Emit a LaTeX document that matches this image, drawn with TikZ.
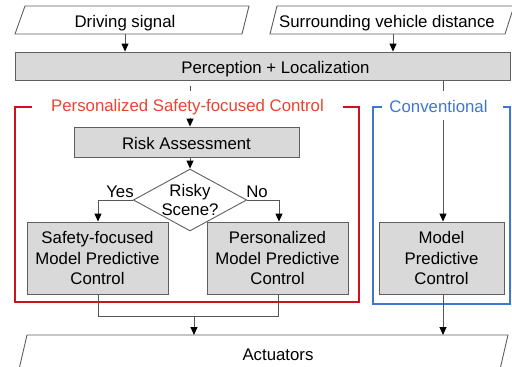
\documentclass[tikz,border=0pt]{standalone}
\usepackage{fontspec}
\setmainfont{Liberation Sans}
\usetikzlibrary{arrows.meta,shapes.geometric}
\definecolor{boxfill}{HTML}{D9D9D9}
\definecolor{boxline}{HTML}{5F5F5F}
\definecolor{conn}{HTML}{555555}
\definecolor{framered}{HTML}{D0101F}
\definecolor{titlered}{HTML}{E8452C}
\definecolor{frameblue}{HTML}{3F76D0}
\tikzset{
  every node/.style={font=\fontsize{16.8}{20.5}\selectfont, inner sep=0pt},
  graybox/.style={draw=boxline, fill=boxfill, line width=0.9pt, align=center},
  txt/.style={align=center},
  oneline/.style={text height=16pt, text depth=2pt},
  conline/.style={draw=conn, line width=0.9pt},
  arr/.style={conline, -{Triangle[width=7pt,length=8pt,black]}},
  redframe/.style={draw=framered, line width=1.6pt},
  blueframe/.style={draw=frameblue, line width=1.6pt},
  para/.style={draw=boxline, line width=0.9pt, fill=white},
}
\begin{document}
\begin{tikzpicture}[x=1pt,y=-1pt]
\useasboundingbox (0,0) rectangle (512,367);
\clip (0,0) rectangle (512,367);
% input parallelograms
\draw[para] (25,6) -- (249,6) -- (242,34) -- (15,34) -- cycle;
\node[txt, oneline, minimum width=160pt, minimum height=28pt] (ds) at (125,20) {Driving signal};
\draw[para] (277,6) -- (514,6) -- (505,34) -- (270,34) -- cycle;
\node[txt, oneline, minimum width=220pt, minimum height=28pt] (sv) at (387,20) {Surrounding vehicle distance};
% perception
\node[graybox, minimum width=495pt, minimum height=28pt] (per) at (262.5,66) {};
\node[txt, oneline] (pertext) at (275.5,66) {Perception + Localization};
\draw[arr] (ds.south) -- (ds.south |- per.north);
\draw[arr] ([xshift=6pt]sv.south) -- ([xshift=6pt]sv.south |- per.north);
% frames
\draw[redframe] (32,107) -- (15,107) -- (15,302) -- (359,302) -- (359,107) -- (343,107);
\draw[blueframe] (382,107) -- (373,107) -- (373,304) -- (510,304) -- (510,107) -- (503,107);
\node[txt, oneline, text=titlered, minimum height=27pt] (ptitle) at (187.5,104.5) {Personalized Safety-focused Control};
\node[txt, oneline, text=frameblue, minimum height=29pt] (ctitle) at (438.5,105.5) {Conventional};
% red branch
\node[graybox, oneline, minimum width=225pt, minimum height=30pt] (ra) at (186.5,142) {Risk Assessment};
\node[draw=boxline, fill=white, line width=0.9pt, diamond, aspect=1.83, minimum width=110pt, minimum height=61pt, align=center, font=\fontsize{16.8}{19.5}\selectfont] (dec) at (190,200) {Risky\\[-1pt]Scene?};
\node[graybox, minimum width=141pt, minimum height=72pt] (sf) at (97.5,258) {Safety-focused\\Model Predictive\\Control};
\node[graybox, minimum width=141pt, minimum height=72pt] (pm) at (277.5,258) {Personalized\\Model Predictive\\Control};
\node[graybox, minimum width=125pt, minimum height=72pt] (cm) at (441.5,258) {Model\\Predictive\\Control};
% actuators
\draw[para] (27,335) -- (508,335) -- (498.7,375) -- (17.7,375) -- cycle;
\node[txt, oneline, minimum width=200pt, minimum height=24pt] (act) at (278,353) {Actuators};
% connectors
\draw[conline, shorten <=6pt] (per.south -| dec.north) -- (ptitle.north -| dec.north);
\draw[arr] (ptitle.south -| dec.north) -- (dec.north |- ra.north);
\draw[arr] (ra.south -| dec.north) -- (dec.north);
\draw[conline] (per.south -| 443,0) -- (ctitle.north -| 443,0);
\draw[arr] (ctitle.south -| 443,0) -- (cm.north -| 443,0);
\draw[arr] (dec.west) -| (sf.north -| 98,0);
\draw[arr] (dec.east) -| (pm.north -| 279,0);
\node[txt, oneline] (yes) at (120,190.5) {Yes};
\node[txt, oneline] (no) at (257,190.5) {No};
\coordinate (mergeL) at (98,316);
\coordinate (mergeR) at (278,316);
\coordinate (mergeC) at (194,316);
\coordinate (actL) at (194,335);
\coordinate (actR) at (443,335);
\draw[conline] (sf.south -| mergeL) -- (mergeL) -- (mergeR) -- (pm.south -| mergeR);
\draw[arr] (mergeC) -- (actL);
\draw[arr] (cm.south -| actR) -- (actR);
\end{tikzpicture}
\end{document}
